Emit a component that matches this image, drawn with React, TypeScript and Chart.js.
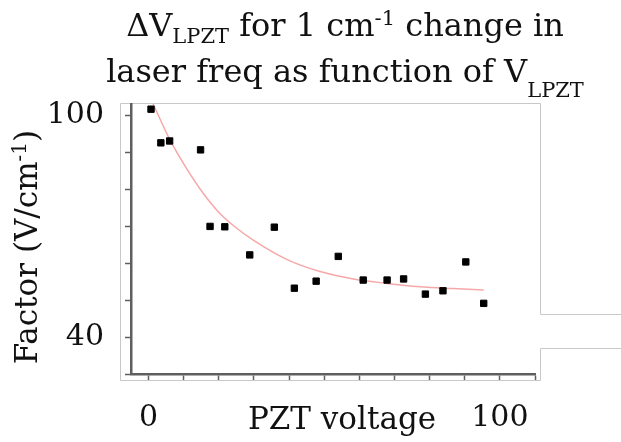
import React, { useEffect, useRef } from 'react';
import { Chart, registerables } from 'chart.js';

Chart.register(...registerables);

// ---- data ----
const pztVoltage = [0.7, 3.5, 6.0, 14.8, 17.5, 21.7, 28.8, 35.8, 41.5, 47.7, 54.0, 61.1, 67.9, 72.6, 78.8, 83.8, 90.3, 95.4];
const factorValues = [101.6, 92.5, 93.0, 90.6, 69.9, 69.8, 62.2, 69.7, 53.2, 55.1, 61.8, 55.4, 55.4, 55.7, 51.6, 52.5, 60.3, 49.1];
const fitVoltage = [1.3, 6.1, 10.8, 15.6, 20.3, 25.1, 29.8, 39.3, 48.8, 58.3, 67.8, 77.3, 86.7, 95.4];
const fitFactor = [103.0, 93.3, 85.6, 78.8, 73.4, 69.4, 66.2, 61.0, 57.7, 55.7, 54.5, 53.6, 53.1, 52.7];
const xTickLabels = [0, 100];
const yTickLabels = [100, 40];
const xRange = [-5, 110];
const yRange = [30, 103];
const tickStep = 10;

const SERIF = '"DejaVu Serif", serif';
const TEXT = '#111';

type Seg = { text: string; size: number; dy: number };

function drawRich(ctx: CanvasRenderingContext2D, segs: Seg[], cx: number, baseline: number) {
  let total = 0;
  const widths: number[] = [];
  for (const s of segs) {
    ctx.font = `${s.size}px ${SERIF}`;
    const w = ctx.measureText(s.text).width;
    widths.push(w);
    total += w;
  }
  let x = cx - total / 2;
  ctx.textAlign = 'left';
  ctx.textBaseline = 'alphabetic';
  ctx.fillStyle = TEXT;
  segs.forEach((s, i) => {
    ctx.font = `${s.size}px ${SERIF}`;
    ctx.fillText(s.text, x, baseline + s.dy);
    x += widths[i];
  });
}

const decorPlugin = {
  id: 'decor',
  beforeDraw(chart: any) {
    const ctx: CanvasRenderingContext2D = chart.ctx;
    ctx.save();
    ctx.strokeStyle = '#c8c8c8';
    ctx.lineWidth = 1;
    ctx.beginPath();
    ctx.moveTo(540.5, 314.5);
    ctx.lineTo(540.5, 103.5);
    ctx.lineTo(120.5, 103.5);
    ctx.lineTo(120.5, 380.5);
    ctx.lineTo(540.5, 380.5);
    ctx.lineTo(540.5, 348.5);
    ctx.moveTo(540.5, 314.5);
    ctx.lineTo(621, 314.5);
    ctx.moveTo(540.5, 348.5);
    ctx.lineTo(621, 348.5);
    ctx.stroke();
    ctx.restore();
  },
  afterDraw(chart: any) {
    const ctx: CanvasRenderingContext2D = chart.ctx;
    ctx.save();
    const big = 32;
    const small = 21;
    drawRich(ctx, [
      { text: 'ΔV', size: big, dy: 0 },
      { text: 'LPZT', size: small, dy: 7 },
      { text: ' for 1 cm', size: big, dy: 0 },
      { text: '-1', size: small, dy: -11 },
      { text: ' change in', size: big, dy: 0 },
    ], 345, 36);
    drawRich(ctx, [
      { text: 'laser freq as function of V', size: big, dy: 0 },
      { text: 'LPZT', size: small, dy: 15 },
    ], 345, 82);
    // x axis title
    drawRich(ctx, [{ text: 'PZT voltage', size: 31, dy: 0 }], 342, 429);
    // y axis title (rotated)
    ctx.translate(37, 247);
    ctx.rotate(-Math.PI / 2);
    drawRich(ctx, [
      { text: 'Factor (V/cm', size: 31, dy: 0 },
      { text: '-1', size: 20, dy: -11 },
      { text: ')', size: 31, dy: 0 },
    ], 0, 0);
    ctx.restore();
  },
};

export default function App() {
  const canvasRef = useRef<HTMLCanvasElement | null>(null);

  useEffect(() => {
    const canvas = canvasRef.current;
    if (!canvas) return;
    const chart = new Chart(canvas, {
      type: 'scatter',
      data: {
        datasets: [
          {
            label: 'Factor',
            data: pztVoltage.map((v, i) => ({ x: v, y: factorValues[i] })),
            pointStyle: 'rect',
            pointRadius: 4.5,
            pointBackgroundColor: '#000',
            pointBorderColor: '#000',
            pointBorderWidth: 1,
            showLine: false,
          },
          {
            label: 'Fit',
            data: fitVoltage.map((v, i) => ({ x: v, y: fitFactor[i] })),
            showLine: true,
            pointRadius: 0,
            borderColor: '#f6a8a8',
            borderWidth: 1.5,
            tension: 0.4,
            cubicInterpolationMode: 'monotone',
          },
        ],
      },
      options: {
        responsive: false,
        animation: false,
        devicePixelRatio: 1,
        layout: { padding: { left: 0, top: 104, right: 86, bottom: 0 } },
        plugins: { legend: { display: false }, tooltip: { enabled: false }, title: { display: false } },
        scales: {
          x: {
            type: 'linear',
            min: xRange[0],
            max: xRange[1],
            afterFit: (s: any) => { s.height = 68; },
            border: { display: true, color: '#5f5f5f', width: 2.5 },
            grid: { drawOnChartArea: false, drawTicks: true, tickLength: 6, tickColor: '#5f5f5f', tickWidth: 1.5 },
            ticks: {
              stepSize: tickStep,
              includeBounds: false,
              autoSkip: false,
              maxRotation: 0,
              padding: 20,
              color: TEXT,
              font: { family: SERIF, size: 30 },
              callback: (v: any) => (xTickLabels.includes(Number(v)) ? String(v) : ''),
            },
          },
          y: {
            type: 'linear',
            min: yRange[0],
            max: yRange[1],
            afterFit: (s: any) => { s.width = 131; },
            border: { display: true, color: '#5f5f5f', width: 2.5 },
            grid: { drawOnChartArea: false, drawTicks: true, tickLength: 6, tickColor: '#5f5f5f', tickWidth: 1.5 },
            ticks: {
              stepSize: tickStep,
              includeBounds: false,
              autoSkip: false,
              padding: 21,
              color: TEXT,
              font: { family: SERIF, size: 30 },
              callback: (v: any) => (yTickLabels.includes(Number(v)) ? String(v) : ''),
            },
          },
        },
      },
      plugins: [decorPlugin],
    } as any);
    return () => chart.destroy();
  }, []);

  return (
    <div style={{ position: 'fixed', left: 0, top: 0, width: 621, height: 442, background: '#fff' }}>
      <canvas ref={canvasRef} width={621} height={442} style={{ display: 'block' }} />
    </div>
  );
}
